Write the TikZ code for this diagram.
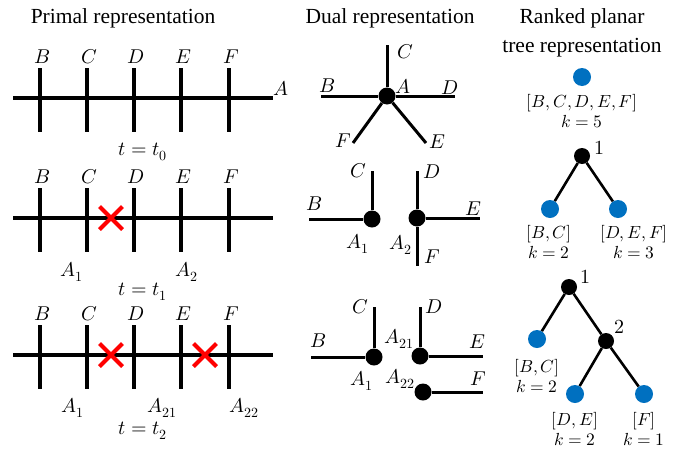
\documentclass[tikz,border=0pt]{standalone}
\usepackage{fontspec}
\usepackage{unicode-math}
\setmainfont{Liberation Serif}
\setmathfont{Latin Modern Math}
\usetikzlibrary{shapes.misc,positioning}
\definecolor{leafblue}{RGB}{0,112,192}
\definecolor{cutred}{RGB}{255,0,0}

\begin{document}
\begin{tikzpicture}[
  x=1pt,y=-1pt,
  title/.style={font=\fontsize{21.5}{29}\selectfont, align=center, inner sep=0pt},
  lbl/.style={font=\fontsize{20}{22}\selectfont, inner sep=0pt},
  treelbl/.style={font=\fontsize{17.5}{20}\selectfont, align=center, inner sep=0pt},
  bar/.style={line width=3.2pt},
  edge/.style={line width=3pt},
  twig/.style={line width=2.6pt},
  cut/.style={draw=cutred, cross out, line width=4pt, minimum size=19pt, inner sep=0pt},
  joint/.style={circle, fill=black, minimum size=17pt, inner sep=0pt},
  branch/.style={circle, fill=black, minimum size=16pt, inner sep=0pt},
  leaf/.style={circle, fill=leafblue, minimum size=18pt, inner sep=0pt}
]
\useasboundingbox (0,0) rectangle (695,450);

% titles
\node[title] (primal) at (123,18) {Primal representation};
\node[title] (dual) at (390,18) {Dual representation};
\node[title] (ranked) at (582,33) {Ranked planar\\tree representation};

% primal representation, one row per time step
\foreach \r/\y in {0/98,1/218,2/355} {
  \coordinate (h\r w) at (13,\y);
  \coordinate (h\r e) at (273,\y);
  \draw[bar] (h\r w) -- (h\r e);
  \foreach \x/\l in {40/B,87/C,134/D,181/E,229/F} {
    \coordinate (v\r\l t) at (\x,\y-30);
    \coordinate (v\r\l b) at (\x,\y+34);
    \draw[bar] (v\r\l t) -- (v\r\l b);
    \node[lbl] (l\r\l) at (\x+2,\y-41) {$\l$};
  }
}
\node[lbl] (lA) at (281,88) {$A$};
\node[lbl] (t0) at (143,152) {$t=t_0$};

\node[cut] (cut1) at (111,218) {};
\node[lbl] (p1A1) at (72,272) {$A_1$};
\node[lbl] (p1A2) at (187,272) {$A_2$};
\node[lbl] (t1) at (143,292) {$t=t_1$};

\node[cut] (cut2) at (111,355) {};
\node[cut] (cut3) at (205,355) {};
\node[lbl] (p2A1) at (73,408) {$A_1$};
\node[lbl] (p2A21) at (162,408) {$A_{21}$};
\node[lbl] (p2A22) at (244,408) {$A_{22}$};
\node[lbl] (t2) at (143,431) {$t=t_2$};

% dual representation
\node[joint] (dA) at (387,96) {};
\coordinate (dAB) at (321,96);
\coordinate (dAC) at (387,45);
\coordinate (dAD) at (455,96);
\coordinate (dAE) at (426,143);
\coordinate (dAF) at (353,143);
\foreach \l in {B,C,D,E,F} \draw[edge] (dA) -- (dA\l);
\node[lbl] at (327,86) {$B$};
\node[lbl] at (405,52) {$C$};
\node[lbl] at (403,86) {$A$};
\node[lbl] at (450,88) {$D$};
\node[lbl] at (437,142) {$E$};
\node[lbl] at (343,141) {$F$};

\node[joint] (dA1) at (372,219) {};
\coordinate (dA1B) at (309,219);
\coordinate (dA1C) at (372,171);
\draw[edge] (dA1) -- (dA1B);
\draw[edge] (dA1) -- (dA1C);
\node[joint] (dA2) at (417,218) {};
\coordinate (dA2D) at (417,171);
\coordinate (dA2E) at (480,218);
\coordinate (dA2F) at (417,266);
\draw[edge] (dA2) -- (dA2D);
\draw[edge] (dA2) -- (dA2E);
\draw[edge] (dA2) -- (dA2F);
\node[lbl] at (314,204) {$B$};
\node[lbl] at (358,171) {$C$};
\node[lbl] at (358,244) {$A_1$};
\node[lbl] at (432,172) {$D$};
\node[lbl] at (473,209) {$E$};
\node[lbl] at (401,245) {$A_2$};
\node[lbl] at (432,257) {$F$};

\node[joint] (eA1) at (374,357) {};
\coordinate (eA1B) at (311,357);
\coordinate (eA1C) at (374,307);
\draw[edge] (eA1) -- (eA1B);
\draw[edge] (eA1) -- (eA1C);
\node[joint] (eA21) at (420,356) {};
\coordinate (eA21D) at (420,307);
\coordinate (eA21E) at (483,356);
\draw[edge] (eA21) -- (eA21D);
\draw[edge] (eA21) -- (eA21E);
\node[joint] (eA22) at (423,392) {};
\coordinate (eA22F) at (483,392);
\draw[edge] (eA22) -- (eA22F);
\node[lbl] at (318,341) {$B$};
\node[lbl] at (360,307) {$C$};
\node[lbl] at (362,381) {$A_1$};
\node[lbl] at (434,307) {$D$};
\node[lbl] at (399,339) {$A_{21}$};
\node[lbl] at (477,342) {$E$};
\node[lbl] at (400,379) {$A_{22}$};
\node[lbl] at (478,379) {$F$};

% ranked planar trees
\node[leaf] (r0) at (582,77) {};
\node[treelbl] (r0l) at (582,111) {$[B,C,D,E,F]$\\$k=5$};

\node[branch] (r1) at (582,156) {};
\node[lbl] (r1n) at (599,148) {$1$};
\node[leaf] (r1a) at (550,209) {};
\node[leaf] (r1b) at (618,209) {};
\draw[twig] (r1) -- (r1a);
\draw[twig] (r1) -- (r1b);
\node[treelbl] (r1al) at (549,242) {$[B,C]$\\$k=2$};
\node[treelbl] (r1bl) at (634,242) {$[D,E,F]$\\$k=3$};

\node[branch] (r2) at (569,287) {};
\node[lbl] (r2n) at (585,277) {$1$};
\node[leaf] (r2a) at (537,339) {};
\node[branch] (r2b) at (606,341) {};
\node[lbl] (r2bn) at (619,327) {$2$};
\node[leaf] (r2c) at (575,394) {};
\node[leaf] (r2d) at (644,394) {};
\draw[twig] (r2) -- (r2a);
\draw[twig] (r2) -- (r2b);
\draw[twig] (r2b) -- (r2c);
\draw[twig] (r2b) -- (r2d);
\node[treelbl] (r2al) at (537,376) {$[B,C]$\\$k=2$};
\node[treelbl] (r2cl) at (575,429) {$[D,E]$\\$k=2$};
\node[treelbl] (r2dl) at (644,429) {$[F]$\\$k=1$};
\end{tikzpicture}
\end{document}
